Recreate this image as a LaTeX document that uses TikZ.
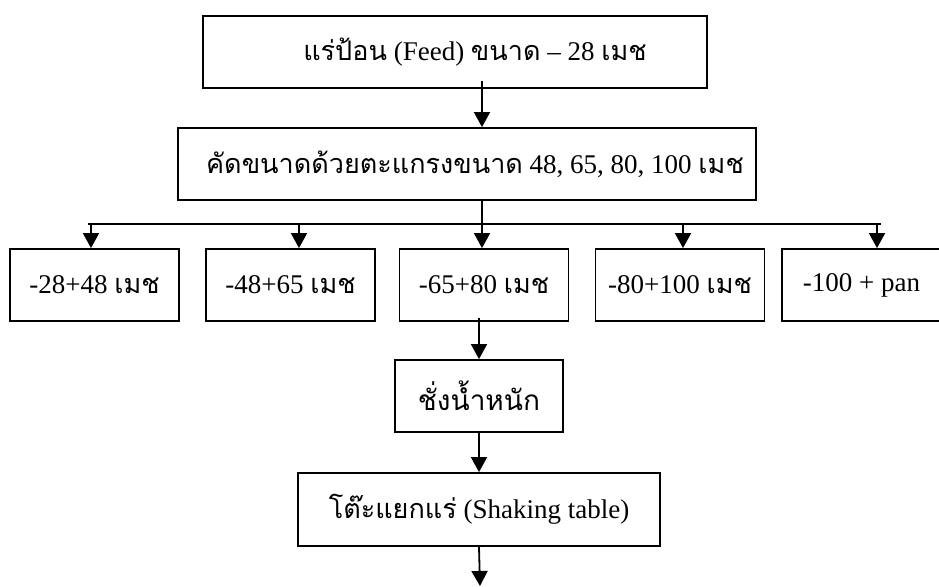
\documentclass[tikz,border=0pt]{standalone}
\usepackage{fontspec}
\setmainfont{Liberation Serif}
\newfontfamily\thaifont[Script=Thai]{Loma}
\newcommand{\thaitxt}[1]{{\thaifont #1}}
\usetikzlibrary{arrows.meta}

\begin{document}
\begin{tikzpicture}[x=1pt, y=-1pt,
    box/.style={draw, line width=1.8pt, inner sep=0pt, minimum height=72pt},
    arr/.style={line width=1.8pt, -{Triangle[width=16pt,length=15pt]}},
    font=\fontsize{27}{32}\selectfont]
    \useasboundingbox (0,0) rectangle (939,586);
    \clip (0,0) rectangle (939,586);
    % main column
    \node[box, minimum width=504pt] (feed) at (455,52)
      {\hspace*{40pt}\thaitxt{แร่ป้อน} (Feed) \thaitxt{ขนาด} -- 28 \thaitxt{เมช}};
    \node[box, minimum width=578pt] (sieve) at (467,164)
      {\hspace*{16pt}\thaitxt{คัดขนาดด้วยตะแกรงขนาด} 48, 65, 80, 100 \thaitxt{เมช}};
    % size fractions
    \node[box, minimum width=169pt] (s1) at (94.5,285) {-28+48 \thaitxt{เมช}};
    \node[box, minimum width=169pt] (s2) at (290.5,285) {-48+65 \thaitxt{เมช}};
    \node[box, minimum width=169pt] (s3) at (484,285) {-65+80 \thaitxt{เมช}};
    \node[box, minimum width=169pt] (s4) at (680,285) {-80+100 \thaitxt{เมช}};
    \node[box, minimum width=169pt] (s5) at (866.5,285) {-100 + pan\hspace*{10pt}};
    \node[box, minimum width=168pt, font=\fontsize{28}{34}\selectfont] (chang) at (479,396)
      {\thaitxt{ชั่งน้ำหนัก}};
    \node[box, minimum width=362pt, minimum height=73pt] (shake) at (479,509.5)
      {\thaitxt{โต๊ะแยกแร่} (Shaking table)};

    \coordinate (spine) at (482,0);
    \coordinate (busL) at (88,224);
    \coordinate (busR) at (881,224);
    \coordinate (out) at (480,586);

    \draw[arr] ([yshift=8pt]feed.south -| spine) -- (sieve.north -| spine);
    \draw[line width=1.8pt] (sieve.south -| spine) -- (spine |- busL);
    \draw[line width=1.8pt] (busL) -- (busR);
    \foreach \b/\dx in {s1/-3.5, s2/8.5, s3/-2, s4/3, s5/10.5}{
      \draw[arr] ([xshift=\dx pt]\b.north |- busL) -- ([xshift=\dx pt]\b.north);
    }
    \draw[arr] ([yshift=4pt]s3.south -| chang.north) -- (chang.north);
    \draw[arr] (chang.south) -- (shake.north);
    \draw[arr] (shake.south) -- (out);
\end{tikzpicture}
\end{document}
